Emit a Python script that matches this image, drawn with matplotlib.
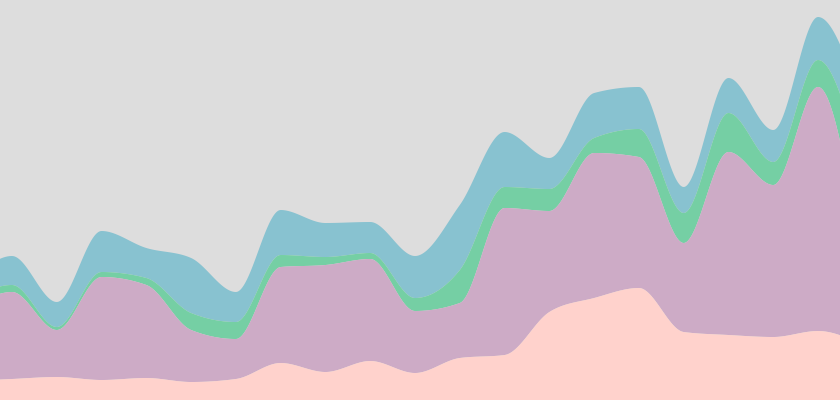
import numpy as np
import matplotlib
matplotlib.use("Agg")
import matplotlib.pyplot as plt

# ---- data ----
x_index = list(range(21))
series_pink   = [19, 21, 23, 20, 22, 18, 21, 37, 28, 39, 27, 42, 45, 88, 102, 112, 68, 65, 63, 69, 55]
series_purple = [71, 87, 47, 103, 93, 52, 40, 96, 107, 102, 62, 55, 147, 101, 145, 131, 89, 183, 152, 244, 79]
series_green  = [10, 7, 3, 5, 7, 17, 17, 12, 8, 6, 13, 33, 21, 22, 15, 28, 30, 39, 23, 27, 94]
series_blue   = [15, 29, 25, 41, 30, 55, 30, 45, 34, 31, 42, 65, 55, 31, 45, 42, 26, 35, 32, 43, 64]

colors = ["#ffd2cc", "#cdabc6", "#75cfa4", "#88c2d0"]
background = "#dddddd"


def monotone_x(x, y, n=40):
    """Monotone cubic (d3.curveMonotoneX style) rendering of a line."""
    x = np.asarray(x, float)
    y = np.asarray(y, float)
    h = np.diff(x)
    s = np.diff(y) / h
    m = np.zeros_like(y)
    for i in range(1, len(y) - 1):
        s0, s1 = s[i - 1], s[i]
        p = (s0 * h[i] + s1 * h[i - 1]) / (h[i - 1] + h[i])
        m[i] = (np.sign(s0) + np.sign(s1)) * min(abs(s0), abs(s1), 0.5 * abs(p))
    m[0] = (3 * s[0] - m[1]) / 2
    m[-1] = (3 * s[-1] - m[-2]) / 2
    xs, ys = [], []
    for i in range(len(x) - 1):
        t = np.linspace(0, 1, n, endpoint=(i == len(x) - 2))
        h00 = 2 * t**3 - 3 * t**2 + 1
        h10 = t**3 - 2 * t**2 + t
        h01 = -2 * t**3 + 3 * t**2
        h11 = t**3 - t**2
        xs.append(x[i] + t * h[i])
        ys.append(h00 * y[i] + h10 * h[i] * m[i] + h01 * y[i + 1] + h11 * h[i] * m[i + 1])
    return np.concatenate(xs), np.concatenate(ys)


layers = [series_pink, series_purple, series_green, series_blue]
cum = np.cumsum(np.array(layers, float), axis=0)

fig = plt.figure(figsize=(8.4, 4.0), dpi=100)
fig.patch.set_facecolor(background)
ax = fig.add_axes([0, 0, 1, 1])
ax.set_facecolor(background)

lower_y = None
for k in range(len(layers)):
    ux, uy = monotone_x(x_index, cum[k])
    ly = np.zeros_like(uy) if lower_y is None else lower_y
    ax.fill_between(ux, ly, uy, color=colors[k], linewidth=0, zorder=len(layers) - k)
    lower_y = uy

ax.set_xlim(0.732, 19.49)
ax.set_ylim(0, 400)
ax.axis("off")
fig.savefig("out.png", dpi=100, facecolor=background)
